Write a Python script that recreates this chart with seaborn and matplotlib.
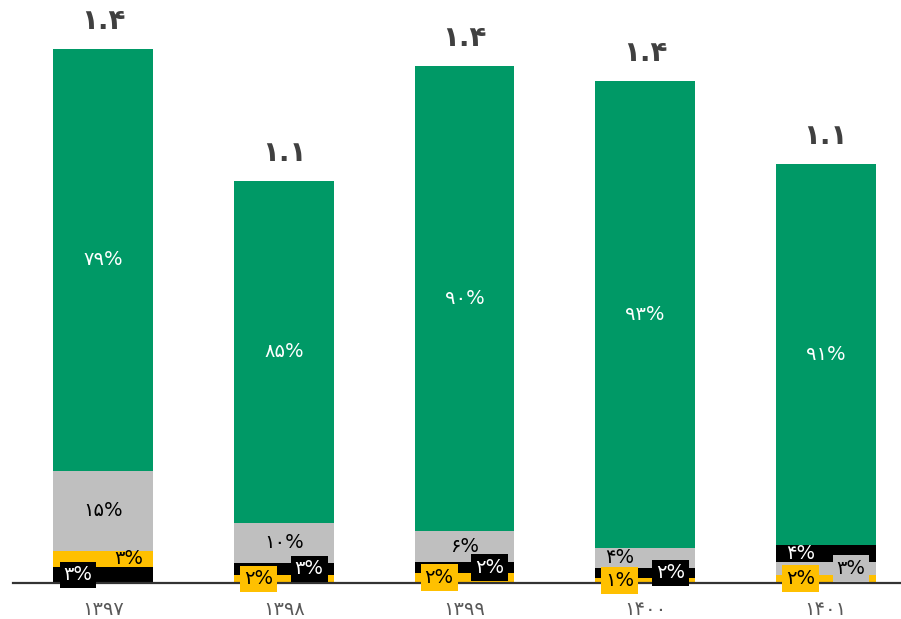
import numpy as np
import pandas as pd
import seaborn as sns
import matplotlib
matplotlib.use('Agg')
import matplotlib.pyplot as plt

# ---- data ----
years = ['۱۳۹۷', '۱۳۹۸', '۱۳۹۹', '۱۴۰۰', '۱۴۰۱']
totals = [1.44, 1.085, 1.395, 1.355, 1.13]
total_labels = ['۱.۴', '۱.۱', '۱.۴', '۱.۴', '۱.۱']

green = [79, 85, 90, 93, 91]
gray = [15, 10, 6, 4, 3]
black = [3, 3, 2, 2, 4]
yellow = [3, 2, 2, 1, 2]
share_labels = {
    'green': ['۷۹%', '۸۵%', '۹۰%', '۹۳%', '۹۱%'],
    'gray': ['۱۵%', '۱۰%', '۶%', '۴%', '۳%'],
    'black': ['۳%', '۳%', '۲%', '۲%', '۴%'],
    'yellow': ['۳%', '۲%', '۲%', '۱%', '۲%'],
}
# bottom -> top order of the segments in each bar
stack_order = [['black', 'yellow', 'gray', 'green'],
               ['yellow', 'black', 'gray', 'green'],
               ['yellow', 'black', 'gray', 'green'],
               ['yellow', 'black', 'gray', 'green'],
               ['yellow', 'gray', 'black', 'green']]

shares = {'green': green, 'gray': gray, 'black': black, 'yellow': yellow}
colors = {'green': '#009966', 'gray': '#BFBFBF', 'black': '#000000', 'yellow': '#FFC000'}
text_colors = {'green': 'white', 'gray': 'black', 'black': 'white', 'yellow': 'black'}

# label placement per bar / segment: 'c' centre, 'l' left, 'r' right
label_side = [{'black': 'l', 'yellow': 'r', 'gray': 'c', 'green': 'c'},
              {'yellow': 'l', 'black': 'r', 'gray': 'c', 'green': 'c'},
              {'yellow': 'l', 'black': 'r', 'gray': 'c', 'green': 'c'},
              {'yellow': 'l', 'black': 'r', 'gray': 'l', 'green': 'c'},
              {'yellow': 'l', 'gray': 'r', 'black': 'l', 'green': 'c'}]
boxed = [{'black'}, {'black', 'yellow'}, {'black', 'yellow'},
         {'black', 'yellow'}, {'yellow', 'gray'}]

# build stacked table: cumulative top of each level
rows = []
for i, yr in enumerate(years):
    cum = 0.0
    for lvl, name in enumerate(stack_order[i]):
        h = totals[i] * shares[name][i] / 100.0
        rows.append({'year': yr, 'series': name, 'level': lvl,
                     'bottom': cum, 'top': cum + h})
        cum += h
df = pd.DataFrame(rows)

sns.set_style('white')
plt.rcParams['font.family'] = ['DejaVu Sans']

fig = plt.figure(figsize=(9.01, 6.19), dpi=100)
ax = fig.add_axes([13 / 901, 36 / 619, 903 / 901, 583 / 619])

# draw from the top level down so lower segments cover the upper bars
for lvl in range(3, -1, -1):
    sub = df[df['level'] == lvl]
    sns.barplot(data=sub, x='year', y='top', hue='series', palette=colors,
                order=years, dodge=False, width=0.553, legend=False,
                saturation=1, ax=ax, linewidth=0)

ax.set_xlim(-0.5, 4.5)
ax.set_ylim(0, 583 / 370.8)

for _, r in df.iterrows():
    i = years.index(r['year'])
    name = r['series']
    side = label_side[i][name]
    x = i + {'c': 0, 'l': -0.14, 'r': 0.14}[side]
    y = (r['bottom'] + r['top']) / 2
    kw = {}
    if name in boxed[i]:
        kw['bbox'] = dict(boxstyle='square,pad=0.2', fc=colors[name], ec='none')
    ax.text(x, y, share_labels[name][i], ha='center', va='center',
            fontsize=14, color=text_colors[name], **kw)

for i, t in enumerate(totals):
    ax.text(i, t + 0.075, total_labels[i], ha='center', va='center',
            fontsize=20, fontweight='bold', color='#404040')

ax.set_xlabel('')
ax.set_ylabel('')
ax.set_yticks([])
ax.tick_params(axis='x', length=0, pad=12, labelsize=14, labelcolor='#595959')
for s in ['top', 'left', 'right']:
    ax.spines[s].set_visible(False)
ax.spines['bottom'].set_color('#333333')
ax.spines['bottom'].set_linewidth(1.6)

fig.savefig('out.png', dpi=100)
